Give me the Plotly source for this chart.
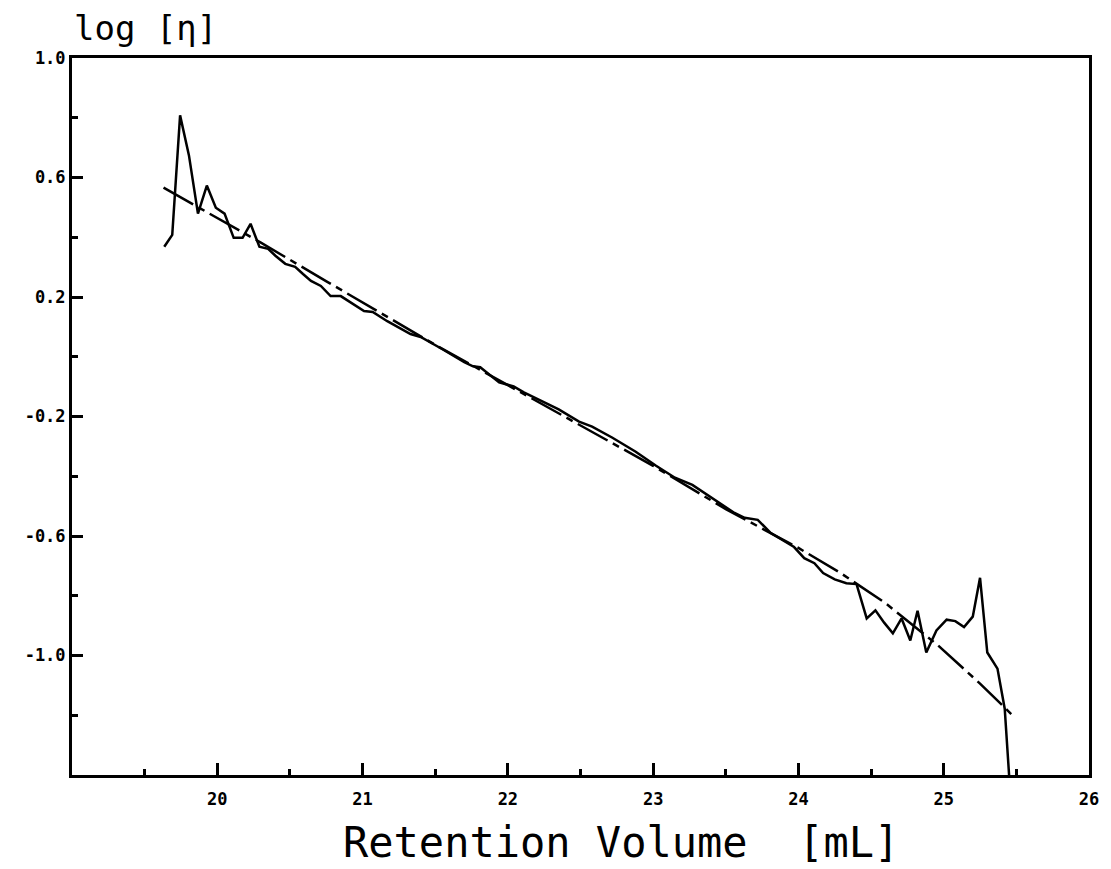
import plotly.graph_objects as go

# Measured curve (jagged solid line)
vol = [19.635, 19.69, 19.744, 19.805, 19.867, 19.928, 19.99, 20.05, 20.113, 20.174,
       20.229, 20.29, 20.35, 20.40, 20.468, 20.536, 20.59, 20.645, 20.713, 20.78,
       20.85, 21.01, 21.07, 21.17, 21.33, 21.40, 21.55, 21.70, 21.76, 21.81,
       21.94, 22.04, 22.11, 22.21, 22.35, 22.49, 22.58, 22.72, 22.88, 23.02,
       23.15, 23.27, 23.42, 23.56, 23.63, 23.72, 23.81, 23.97, 24.04, 24.11,
       24.17, 24.25, 24.33, 24.40, 24.47, 24.53, 24.59, 24.65, 24.71, 24.77,
       24.82, 24.88, 24.95, 25.02, 25.08, 25.14, 25.20, 25.25, 25.30, 25.37,
       25.42, 25.45]
log_eta = [0.368, 0.408, 0.808, 0.674, 0.479, 0.573, 0.499, 0.479, 0.398, 0.398,
           0.445, 0.368, 0.361, 0.338, 0.311, 0.301, 0.277, 0.254, 0.237, 0.203,
           0.203, 0.153, 0.150, 0.119, 0.076, 0.066, 0.025, -0.018, -0.032, -0.035,
           -0.086, -0.099, -0.119, -0.143, -0.176, -0.217, -0.234, -0.271, -0.318, -0.365,
           -0.405, -0.429, -0.478, -0.523, -0.539, -0.546, -0.590, -0.637, -0.674, -0.691,
           -0.724, -0.745, -0.758, -0.761, -0.876, -0.849, -0.890, -0.926, -0.876, -0.950,
           -0.850, -0.990, -0.916, -0.880, -0.885, -0.905, -0.870, -0.740, -0.990, -1.044,
           -1.178, -1.400]

# Calibration fit (dash-dot line)
fit_vol = [19.63, 20.30, 20.76, 21.5, 22.0, 22.5, 23.0, 23.5, 24.0, 24.29, 24.60, 24.96, 25.25, 25.49]
fit_log_eta = [0.566, 0.382, 0.250, 0.040, -0.095, -0.230, -0.365, -0.510, -0.640, -0.724, -0.825, -0.966, -1.094, -1.208]

x_ticks = [20, 21, 22, 23, 24, 25, 26]
x_ticktext = ["20", "21", "22", "23", "24", "25", "26"]
x_minor = [19.5, 20.5, 21.5, 22.5, 23.5, 24.5, 25.5]
y_ticks = [-1.0, -0.6, -0.2, 0.2, 0.6, 1.0]
y_ticktext = ["-1.0", "-0.6", "-0.2", "0.2", "0.6", "1.0"]
y_minor = [-1.2, -0.8, -0.4, 0.0, 0.4, 0.8]

fig = go.Figure()
fig.add_trace(go.Scatter(x=vol, y=log_eta, mode="lines",
                         line=dict(color="black", width=2.5), showlegend=False))
fig.add_trace(go.Scatter(x=fit_vol, y=fit_log_eta, mode="lines",
                         line=dict(color="black", width=2.5, dash="34px,6px,7px,6px"),
                         showlegend=False))

tickfont = dict(family="DejaVu Sans Mono", size=17, color="black", weight="bold")

fig.update_layout(
    width=1111, height=869,
    margin=dict(l=72, r=19, t=58, b=94),
    paper_bgcolor="white", plot_bgcolor="white",
    xaxis=dict(range=[19, 26], tickmode="array", tickvals=x_ticks, ticktext=x_ticktext,
               ticks="inside", ticklen=12, tickwidth=3, tickcolor="black",
               showline=True, linecolor="black", linewidth=3, mirror=True,
               showgrid=False, zeroline=False, tickfont=tickfont, ticklabelstandoff=7,
               minor=dict(tickmode="array", tickvals=x_minor, ticks="inside", ticklen=6,
                          tickwidth=2.5, tickcolor="black", showgrid=False)),
    yaxis=dict(range=[-1.4, 1.0], tickmode="array", tickvals=y_ticks, ticktext=y_ticktext,
               ticks="inside", ticklen=11, tickwidth=2.5, tickcolor="black",
               showline=True, linecolor="black", linewidth=3, mirror=True,
               showgrid=False, zeroline=False, tickfont=tickfont,
               minor=dict(tickmode="array", tickvals=y_minor, ticks="inside", ticklen=6,
                          tickwidth=2.5, tickcolor="black", showgrid=False)),
    annotations=[
        dict(text="log [η]", xref="paper", yref="paper", x=0, y=1, xanchor="left",
             yanchor="bottom", yshift=8, showarrow=False,
             font=dict(family="DejaVu Sans Mono", size=34, color="black")),
        dict(text="Retention Volume  [mL]", xref="paper", yref="paper", x=0.54, y=0,
             xanchor="center", yanchor="middle", yshift=-67, showarrow=False,
             font=dict(family="DejaVu Sans Mono", size=42, color="black")),
    ],
)

fig.write_html("out.html")
